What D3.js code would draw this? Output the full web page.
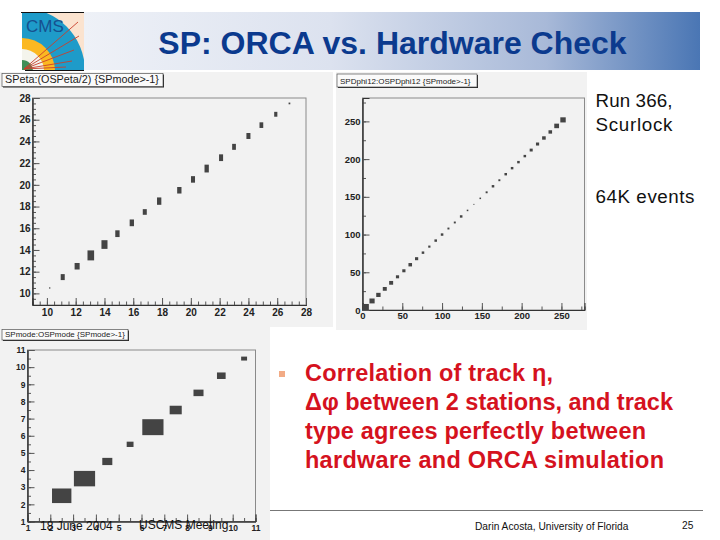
<!DOCTYPE html>
<html>
<head>
<meta charset="utf-8">
<script src="https://cdn.jsdelivr.net/npm/d3@7"></script>
<style>
html, body { margin: 0; padding: 0; background: white; }
svg { display: block; font-family: "Liberation Sans", Arial, sans-serif; }
</style>
</head>
<body>
<div id="chart"></div>
<script>
// eta panel: bin centres and box sizes (in axis units)
var etaX = [10.2, 11.1, 12.1, 13.05, 14, 14.9, 15.9, 16.8, 17.8, 19.2, 20.15, 21.1, 22.1, 23, 24, 24.9, 25.9, 26.85];
var etaY = [10.5, 11.5, 12.5, 13.5, 14.5, 15.5, 16.5, 17.5, 18.5, 19.5, 20.5, 21.5, 22.5, 23.5, 24.5, 25.5, 26.5, 27.5];
var etaW = [0.07, 0.28, 0.35, 0.46, 0.42, 0.3, 0.3, 0.28, 0.3, 0.3, 0.28, 0.3, 0.28, 0.26, 0.28, 0.26, 0.22, 0.12];
var etaH = [0.15, 0.55, 0.6, 0.92, 0.8, 0.62, 0.62, 0.52, 0.68, 0.6, 0.6, 0.72, 0.62, 0.55, 0.55, 0.52, 0.45, 0.16];

// dphi panel
var dphiX = [4, 12, 20, 28, 36, 44, 52, 60, 68, 76, 84, 92, 100, 108, 116, 124, 132, 140, 148, 156, 164, 172, 180, 188, 196, 204, 212, 220, 228, 236, 244, 252];
var dphiY = [4, 12, 20, 28, 36, 44, 52, 60, 68, 76, 84, 92, 100, 108, 116, 124, 132, 140, 148, 156, 164, 172, 180, 188, 196, 204, 212, 220, 228, 236, 244, 252];
var dphiS = [8, 6.5, 5.5, 5, 5, 4, 4, 4.5, 4, 3.2, 2.8, 3.2, 3.2, 2.5, 2.5, 3.2, 2, 1.3, 2, 2.5, 3.2, 2.5, 3.2, 3.2, 3.2, 3.2, 3.8, 4, 4.5, 4.5, 6, 6.8];

// mode panel
var modeX = [2.5, 3.5, 4.5, 5.5, 6.5, 7.5, 8.5, 9.5, 10.5];
var modeY = [2.5, 3.5, 4.5, 5.5, 6.5, 7.5, 8.5, 9.5, 10.5];
var modeW = [0.85, 0.93, 0.44, 0.3, 0.93, 0.53, 0.44, 0.38, 0.26];
var modeH = [0.85, 0.9, 0.42, 0.31, 0.93, 0.5, 0.38, 0.38, 0.23];

var etaTicks = d3.range(10, 29, 2);
var etaMinor = d3.range(9.5, 28.01, 0.5);
var dphiTicks = [0, 50, 100, 150, 200, 250];
var dphiMinor = d3.range(0, 279, 25);
var modeTicks = d3.range(1, 12);
var modeMinor = d3.range(1, 11.01, 0.5);

var noteLines = ["Correlation of track η,", "Δφ between 2 stations, and track", "type agrees perfectly between", "hardware and ORCA simulation"];
var noteWidths = [248, 368, 341, 359];

var svg = d3.select("#chart").append("svg").attr("width", 720).attr("height", 540);
var defs = svg.append("defs");

var grad = defs.append("linearGradient").attr("id", "head");
grad.append("stop").attr("offset", "0%").attr("stop-color", "#eef1f7");
grad.append("stop").attr("offset", "40%").attr("stop-color", "#dce2ef");
grad.append("stop").attr("offset", "75%").attr("stop-color", "#a8b9d8");
grad.append("stop").attr("offset", "100%").attr("stop-color", "#4a76b4");

// header band
svg.append("rect").attr("x", 84).attr("y", 12).attr("width", 616).attr("height", 58).attr("fill", "url(#head)");

// CMS logo
defs.append("clipPath").attr("id", "logoClip").append("rect")
    .attr("x", 22).attr("y", 13).attr("width", 62).attr("height", 57);
var logo = svg.append("g").attr("clip-path", "url(#logoClip)");
logo.append("rect").attr("x", 22).attr("y", 13).attr("width", 62).attr("height", 57).attr("fill", "#fbe3cf");
[[63, "#1e9bc9"], [33, "#fbb821"], [22, "#f4f4ec"], [11, "#3f8f58"]].forEach(function (c) {
    logo.append("circle").attr("cx", 22).attr("cy", 71).attr("r", c[0]).attr("fill", c[1]);
});
[[78, 22], [79, 36], [74, 50], [72, 61], [66, 67]].forEach(function (p) {
    logo.append("line").attr("x1", 24).attr("y1", 69).attr("x2", p[0]).attr("y2", p[1])
        .attr("stroke", "#c8402c").attr("stroke-width", 0.9);
});
logo.append("text").attr("x", 26).attr("y", 32).attr("font-size", 17).attr("fill", "#16508f").text("CMS");
svg.append("line").attr("x1", 21).attr("x2", 84).attr("y1", 12.5).attr("y2", 12.5).attr("stroke", "#111");
svg.append("line").attr("x1", 25).attr("x2", 84).attr("y1", 70.5).attr("y2", 70.5).attr("stroke", "#111");

svg.append("text").attr("x", 392.5).attr("y", 54).attr("text-anchor", "middle")
    .attr("font-size", 32).attr("font-weight", "bold").attr("fill", "#0b3a8e")
    .text("SP: ORCA vs. Hardware Check");

// one ROOT style canvas with a box histogram
function drawPanel(o) {
    var g = svg.append("g");
    g.append("rect").attr("x", o.bg[0]).attr("y", o.bg[1]).attr("width", o.bg[2]).attr("height", o.bg[3]).attr("fill", "#f2f2f2");

    var x = d3.scaleLinear().domain(o.xDomain).range([o.frame[0], o.frame[2]]);
    var y = d3.scaleLinear().domain(o.yDomain).range([o.frame[3], o.frame[1]]);

    g.append("rect").attr("x", o.frame[0]).attr("y", o.frame[1])
        .attr("width", o.frame[2] - o.frame[0]).attr("height", o.frame[3] - o.frame[1])
        .attr("fill", "none").attr("stroke", "#8a8a8a");

    // minor ticks
    var xMin = g.append("g").attr("transform", "translate(0," + o.frame[3] + ")")
        .call(d3.axisBottom(x).tickValues(o.xMinor).tickSize(-3.5).tickFormat(""));
    var yMin = g.append("g").attr("transform", "translate(" + o.frame[0] + ",0)")
        .call(d3.axisLeft(y).tickValues(o.yMinor).tickSize(-3.5).tickFormat(""));

    // major ticks with labels
    var xAxis = g.append("g").attr("transform", "translate(0," + o.frame[3] + ")")
        .call(d3.axisBottom(x).tickValues(o.xTicks).tickSize(-o.tickLen).tickPadding(o.xPad));
    var yAxis = g.append("g").attr("transform", "translate(" + o.frame[0] + ",0)")
        .call(d3.axisLeft(y).tickValues(o.yTicks).tickSize(-o.tickLen).tickPadding(o.yPad));

    [xMin, yMin, xAxis, yAxis].forEach(function (a) {
        a.select(".domain").attr("stroke", "#333");
        a.selectAll("line").attr("stroke", "#555");
        a.selectAll("text").attr("font-family", '"Liberation Sans", Arial, sans-serif')
            .attr("font-size", o.fontSize).attr("font-weight", "bold").attr("fill", "#222");
    });

    g.selectAll("rect.bin").data(o.xs).enter().append("rect").attr("class", "bin")
        .attr("x", function (d, i) { return x(d - o.ws[i] / 2); })
        .attr("y", function (d, i) { return y(o.ys[i] + o.hs[i] / 2); })
        .attr("width", function (d, i) { return x(o.ws[i]) - x(0); })
        .attr("height", function (d, i) { return y(0) - y(o.hs[i]); })
        .attr("fill", "#444");

    // stats title box
    g.append("rect").attr("x", o.box[0] + 1).attr("y", o.box[1] + 1).attr("width", o.box[2]).attr("height", o.box[3]).attr("fill", "#222");
    g.append("rect").attr("x", o.box[0]).attr("y", o.box[1]).attr("width", o.box[2]).attr("height", o.box[3])
        .attr("fill", "#fafafa").attr("stroke", "#555").attr("stroke-width", 0.7);
    g.append("text").attr("x", o.box[0] + 3).attr("y", o.box[1] + o.box[3] - 3.5)
        .attr("font-size", o.titleSize).attr("fill", "#222").text(o.title);
}

drawPanel({
    bg: [0, 72, 333, 255], frame: [32.5, 98, 306, 305],
    xDomain: [9, 28], yDomain: [8.93, 28],
    xTicks: etaTicks, yTicks: etaTicks, xMinor: etaMinor, yMinor: etaMinor,
    xs: etaX, ys: etaY, ws: etaW, hs: etaH,
    tickLen: 7, xPad: 4, yPad: 2, fontSize: 10,
    box: [2, 73.5, 161, 13], title: "SPeta:(OSPeta/2) {SPmode>-1}", titleSize: 10.8
});

drawPanel({
    bg: [336, 72, 251, 258], frame: [362.5, 98, 584.5, 310],
    xDomain: [0, 279], yDomain: [0, 281],
    xTicks: dphiTicks, yTicks: dphiTicks, xMinor: dphiMinor, yMinor: dphiMinor,
    xs: dphiX, ys: dphiY, ws: dphiS, hs: dphiS,
    tickLen: 7, xPad: 2, yPad: 2, fontSize: 9.5,
    box: [337, 74, 140, 13], title: "SPDphi12:OSPDphi12 {SPmode>-1}", titleSize: 8
});

svg.append("rect").attr("x", 0).attr("y", 327).attr("width", 270).attr("height", 213).attr("fill", "#f2f2f2");
drawPanel({
    bg: [0, 329, 270, 211], frame: [27.5, 350, 255.5, 521.5],
    xDomain: [1, 11], yDomain: [1, 11],
    xTicks: modeTicks, yTicks: modeTicks, xMinor: modeMinor, yMinor: modeMinor,
    xs: modeX, ys: modeY, ws: modeW, hs: modeH,
    tickLen: 7, xPad: 3, yPad: 2, fontSize: 8.5,
    box: [2, 329.5, 126, 10.5], title: "SPmode:OSPmode {SPmode>-1}", titleSize: 8
});

// side notes
svg.append("text").attr("x", 595.5).attr("y", 107).attr("font-size", 18.8).attr("fill", "#111").attr("textLength", 77).text("Run 366,");
svg.append("text").attr("x", 595.5).attr("y", 131).attr("font-size", 18.8).attr("fill", "#111").attr("textLength", 77).text("Scurlock");
svg.append("text").attr("x", 595.5).attr("y", 203).attr("font-size", 18.8).attr("fill", "#111").attr("textLength", 99).text("64K events");

// bullet text
svg.append("rect").attr("x", 279).attr("y", 371).attr("width", 6).attr("height", 6).attr("fill", "#f2ab85");
svg.selectAll("text.note").data(noteLines).enter().append("text").attr("class", "note")
    .attr("x", 305).attr("y", function (d, i) { return 381 + i * 29; })
    .attr("font-size", 23.5).attr("font-weight", "bold").attr("fill", "#d5121e")
    .attr("textLength", function (d, i) { return noteWidths[i]; })
    .text(function (d) { return d; });

// footer
svg.append("line").attr("x1", 270).attr("x2", 703).attr("y1", 510.5).attr("y2", 510.5).attr("stroke", "#777");
svg.append("text").attr("x", 40).attr("y", 530).attr("font-size", 12).attr("fill", "#111").text("18 June 2004");
svg.append("text").attr("x", 139).attr("y", 529).attr("font-size", 12).attr("fill", "#111").text("USCMS Meeting");
svg.append("text").attr("x", 475).attr("y", 530).attr("font-size", 10.2).attr("fill", "#111").text("Darin Acosta, University of Florida");
svg.append("text").attr("x", 682).attr("y", 529).attr("font-size", 10.2).attr("fill", "#111").text("25");
</script>
</body>
</html>
